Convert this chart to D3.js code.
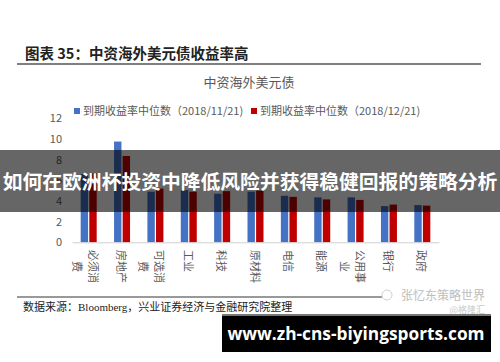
<!DOCTYPE html>
<html>
<head>
<meta charset="utf-8">
<script src="https://cdn.jsdelivr.net/npm/d3@7"></script>
<style>
  body { margin: 0; background: #fff; }
  svg { display: block; font-family: "Noto Sans CJK SC", "Noto Sans", sans-serif; }
</style>
</head>
<body>
<svg id="chart"></svg>
<script>
const width = 500;
const height = 362;

// sectors
const categories = ["必须消费", "房地产", "可选消费", "工业", "科技", "原材料", "电信", "能源", "公用事业", "银行", "政府"];
const yieldNov = [6.6, 9.75, 4.9, 5.05, 4.7, 4.9, 4.5, 4.35, 4.35, 3.5, 3.6];
const yieldDec = [6.7, 8.35, 5.2, 4.9, 4.95, 5.0, 4.4, 4.15, 4.1, 3.65, 3.55];
const yTicks = [0, 2, 4, 6, 8, 10, 12];
const seriesNames = ["到期收益率中位数（2018/11/21)", "到期收益率中位数（2018/12/21)"];
const seriesColors = ["#4472c4", "#c00000"];

const svg = d3.select("#chart")
  .attr("width", width)
  .attr("height", height);

svg.append("rect").attr("width", width).attr("height", height).attr("fill", "#fff");

// report header
svg.append("text")
  .attr("x", 25).attr("y", 59)
  .attr("font-size", 14.5).attr("font-weight", "bold").attr("fill", "#222")
  .text("图表 35：中资海外美元债收益率高");

svg.append("line")
  .attr("x1", 17).attr("x2", 481).attr("y1", 64).attr("y2", 64)
  .attr("stroke", "#555").attr("stroke-width", 1.3);

svg.append("text")
  .attr("x", 249).attr("y", 87)
  .attr("text-anchor", "middle").attr("font-size", 13).attr("fill", "#595959")
  .text("中资海外美元债");

// legend
seriesNames.forEach((name, i) => {
  const lx = i === 0 ? 74 : 251;
  svg.append("rect")
    .attr("x", lx).attr("y", 108).attr("width", 6).attr("height", 6)
    .attr("fill", seriesColors[i]);
  svg.append("text")
    .attr("x", lx + 9).attr("y", 115)
    .attr("font-size", 11).attr("fill", "#595959")
    .text(name);
});

const x = d3.scaleBand()
  .domain(categories)
  .range([72, 439]);

const xSub = d3.scaleBand()
  .domain([0, 1])
  .range([x.bandwidth() / 2 - 8, x.bandwidth() / 2 + 8])
  .paddingInner(0.14);

const y = d3.scaleLinear()
  .domain([0, 12])
  .range([242.3, 118.3]);

// y axis labels only
const yAxis = svg.append("g")
  .attr("transform", "translate(62,0)")
  .call(d3.axisLeft(y).tickValues(yTicks).tickSize(0).tickPadding(0));
yAxis.select(".domain").remove();
yAxis.selectAll("text")
  .attr("font-family", "'Noto Sans CJK SC', sans-serif")
  .attr("font-size", 11).attr("fill", "#595959");

// bars
const series = [yieldNov, yieldDec];
series.forEach((vals, s) => {
  svg.append("g")
    .selectAll("rect")
    .data(vals)
    .join("rect")
    .attr("x", (d, i) => x(categories[i]) + xSub(s))
    .attr("width", xSub.bandwidth())
    .attr("y", d => y(d))
    .attr("height", d => y(0) - y(d))
    .attr("fill", seriesColors[s]);
});

// baseline
const xAxis = svg.append("g")
  .attr("transform", `translate(0,${y(0)})`)
  .call(d3.axisBottom(x).tickSize(0).tickFormat(""));
xAxis.select(".domain").attr("stroke", "#d0d0d0");

// vertical category labels, wrapped every 3 characters
const labelSize = 11;
categories.forEach(c => {
  const lines = c.length > 3 ? [c.slice(0, 3), c.slice(3)] : [c];
  const cx = x(c) + x.bandwidth() / 2;
  const g = svg.append("g")
    .attr("transform", `translate(${cx},250) rotate(90)`);
  lines.forEach((ln, j) => {
    const off = lines.length === 1 ? 0 : (j === 0 ? -5 : 11);
    g.append("text")
      .attr("x", j === 0 ? 0 : lines[0].length * labelSize / 2)
      .attr("y", off)
      .attr("text-anchor", j === 0 ? "start" : "middle")
      .attr("dominant-baseline", "central")
      .attr("font-size", labelSize).attr("fill", "#595959")
      .text(ln);
  });
});

// footer
svg.append("line")
  .attr("x1", 17).attr("x2", 382).attr("y1", 297).attr("y2", 297)
  .attr("stroke", "#999").attr("stroke-width", 1.8);

const src = svg.append("text")
  .attr("x", 23).attr("y", 311)
  .attr("font-size", 11).attr("fill", "#222");
src.append("tspan").text("数据来源：");
src.append("tspan").attr("font-family", "'Liberation Serif', serif").text("Bloomberg");
src.append("tspan").text("，兴业证券经济与金融研究院整理");

svg.append("text")
  .attr("x", 485).attr("y", 300)
  .attr("text-anchor", "end").attr("font-size", 12).attr("fill", "#bdbdbd")
  .text("张忆东策略世界");
svg.append("circle")
  .attr("cx", 387).attr("cy", 295).attr("r", 5)
  .attr("fill", "none").attr("stroke", "#cfcfcf").attr("stroke-width", 1);
svg.append("text")
  .attr("x", 485).attr("y", 313)
  .attr("text-anchor", "end").attr("font-size", 9).attr("fill", "#c8c8c8")
  .text("@格隆汇");

// overlay banner
svg.append("rect")
  .attr("x", 0).attr("y", 150).attr("width", width).attr("height", 62)
  .attr("fill", "rgba(0,0,0,0.6)");
svg.append("text")
  .attr("x", 250).attr("y", 189)
  .attr("text-anchor", "middle").attr("font-size", 19.8).attr("font-weight", "bold")
  .attr("fill", "#fff")
  .text("如何在欧洲杯投资中降低风险并获得稳健回报的策略分析");

// url box
svg.append("rect")
  .attr("x", 222).attr("y", 315).attr("width", 269).attr("height", 37)
  .attr("fill", "#000");
svg.append("rect")
  .attr("x", 222).attr("y", 314).attr("width", 269).attr("height", 2)
  .attr("fill", "#777");
svg.append("text")
  .attr("x", 356).attr("y", 340)
  .attr("text-anchor", "middle").attr("font-size", 17.3).attr("font-weight", "bold")
  .attr("font-family", "'Open Sans', 'Noto Sans', sans-serif")
  .attr("fill", "#fff")
  .text("www.zh-cns-biyingsports.com");
</script>
</body>
</html>
